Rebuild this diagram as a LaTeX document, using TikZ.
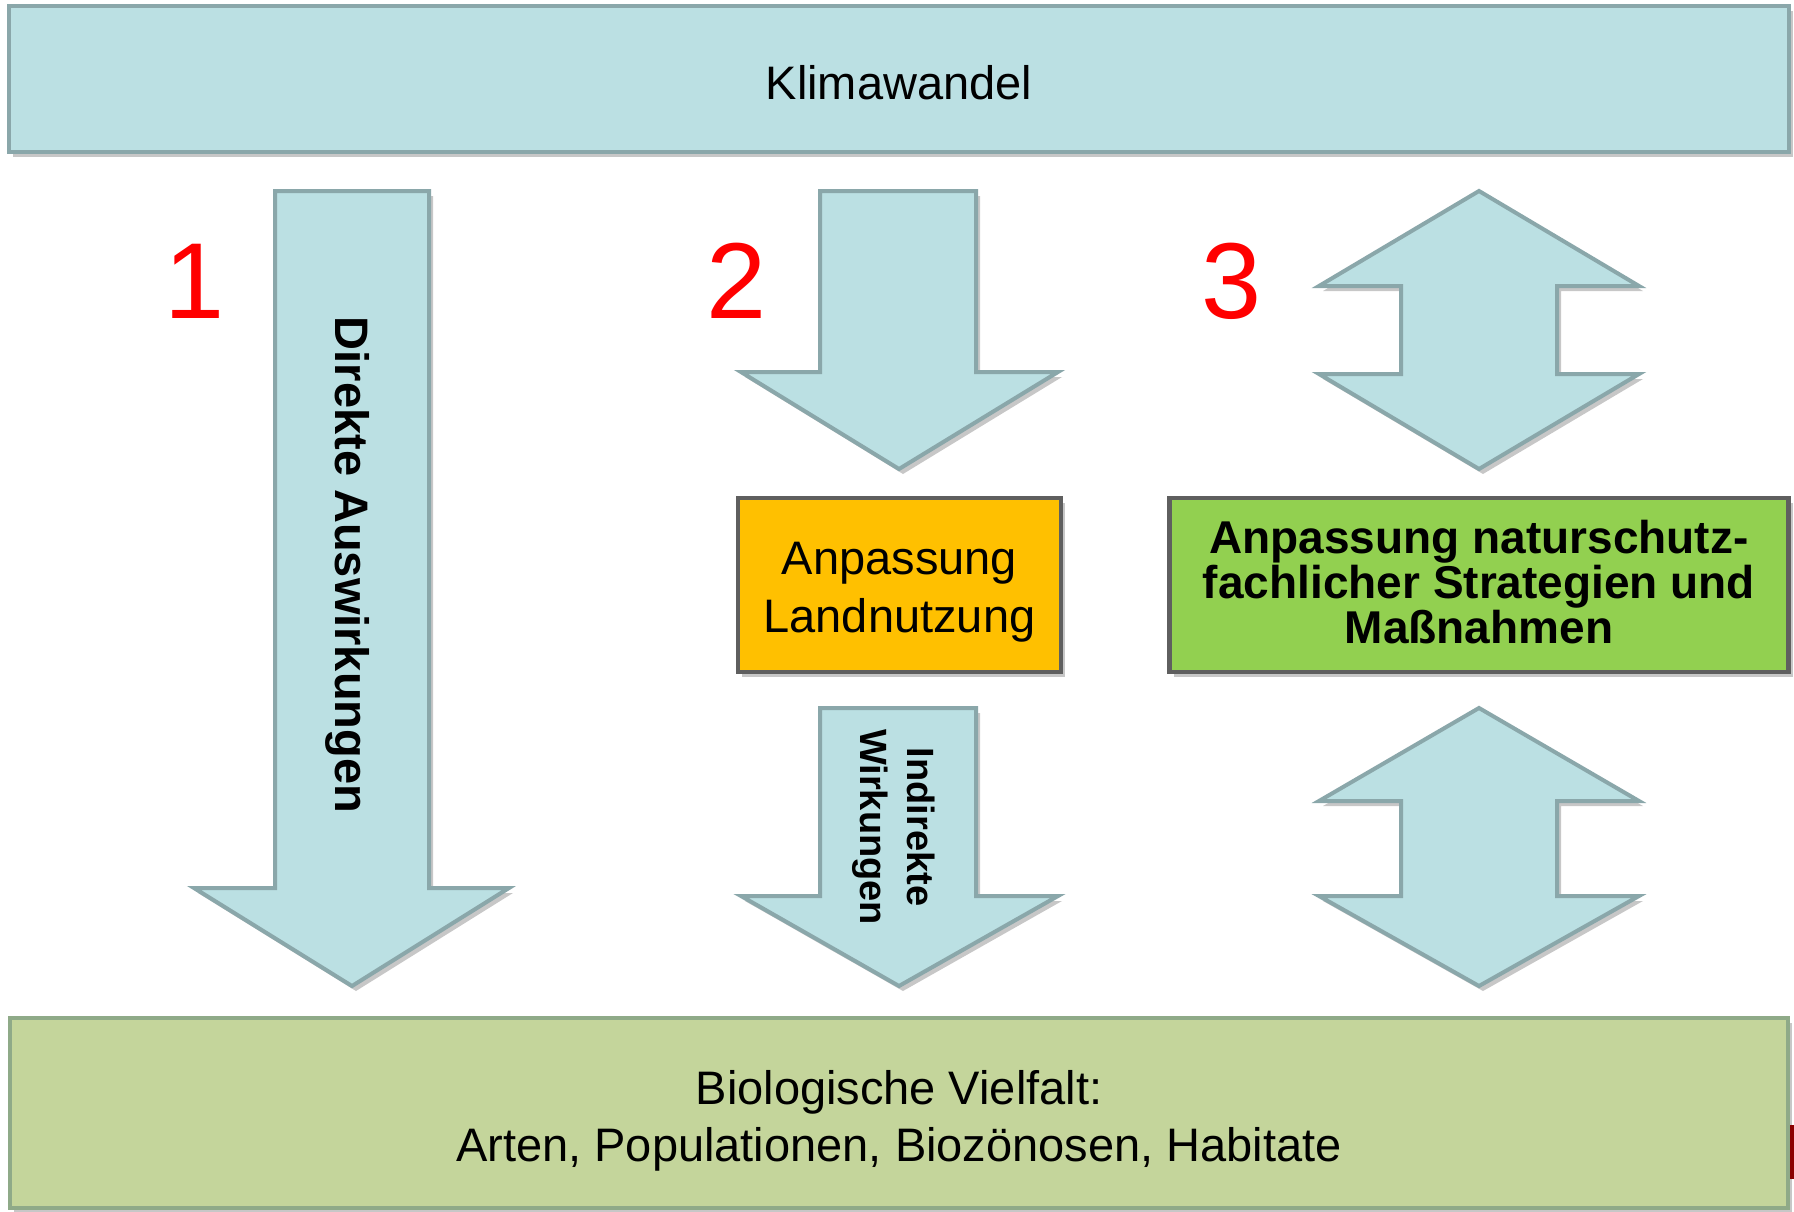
\documentclass[tikz,border=0pt]{standalone}
\usepackage{fontspec}
\setmainfont{Liberation Sans}
\usetikzlibrary{shadows}
\definecolor{tealfill}{RGB}{187,224,227}
\definecolor{tealline}{RGB}{138,167,170}
\definecolor{boxorange}{RGB}{255,192,0}
\definecolor{boxgreen}{RGB}{146,208,80}
\definecolor{boxline}{RGB}{95,95,95}
\definecolor{biofill}{RGB}{196,213,155}
\definecolor{bioline}{RGB}{143,170,136}
\definecolor{numred}{RGB}{255,0,0}
\definecolor{edgered}{RGB}{139,0,0}
\begin{document}
\begin{tikzpicture}[x=1pt,y=-1pt,
  softshadow/.style={drop shadow={shadow xshift=4pt,shadow yshift=-5pt,opacity=0.22,fill=black}},
  tealshape/.style={fill=tealfill,draw=tealline,line width=4pt,softshadow},
  bigbox/.style={rectangle,inner sep=0pt,line width=4pt,softshadow,align=center},
  midbox/.style={rectangle,inner sep=0pt,line width=4.5pt,draw=boxline,softshadow,align=center},
  numlabel/.style={text=numred,inner sep=0pt,font=\fontsize{108}{108}\selectfont},
  regtext/.style={inner sep=0pt,align=center,font=\fontsize{47}{57}\selectfont},
]
\useasboundingbox (0,0) rectangle (1794,1211);
\fill[white] (0,0) rectangle (1794,1211);

% top box
\node[bigbox,fill=tealfill,draw=tealline,minimum width=1780pt,minimum height=146pt]
  (klima) at (899,79) {};
\node[regtext] (klimatext) at ([yshift=-4pt]klima.center) {Klimawandel};

% bottom box
\node[bigbox,fill=biofill,draw=bioline,minimum width=1778pt,minimum height=190pt]
  (bio) at (899,1113) {};
\node[regtext] (biotext) at ([yshift=-8pt]bio.center) {Biologische Vielfalt:\\Arten, Populationen, Biozönosen, Habitate};
\fill[edgered] (1790,1125) rectangle (1794,1179);

% arrow 1
\draw[tealshape] (275,191) -- (429,191) -- (429,888) -- (509,888) -- (352,986) -- (194,888) -- (275,888) -- cycle;
\node[rotate=-90,font=\bfseries\fontsize{47}{57}\selectfont,inner sep=0pt] (direkt) at (348,565) {Direkte Auswirkungen};

% arrow 2
\draw[tealshape] (820,191) -- (976,191) -- (976,372) -- (1058,372) -- (899,469) -- (741,372) -- (820,372) -- cycle;

% orange box
\node[midbox,fill=boxorange,minimum width=323pt,minimum height=174pt]
  (land) at (899.5,585) {};
\node[regtext,font=\fontsize{47}{58}\selectfont] (landtext) at ([yshift=-7pt]land.center) {Anpassung\\Landnutzung};

% arrow 3
\draw[tealshape] (820,708) -- (976,708) -- (976,896) -- (1058,896) -- (899,986) -- (741,896) -- (820,896) -- cycle;
\node[rotate=-90,align=center,font=\bfseries\fontsize{38}{47}\selectfont,inner sep=0pt] (indirekt) at (894,827) {Indirekte\\Wirkungen};

% double arrows
\draw[tealshape] (1479,191) -- (1639,286) -- (1557,286) -- (1557,374) -- (1639,374) -- (1479,469) -- (1319,374) -- (1401,374) -- (1401,286) -- (1319,286) -- cycle;
\draw[tealshape] (1479,708) -- (1639,801) -- (1557,801) -- (1557,896) -- (1639,896) -- (1479,986) -- (1319,896) -- (1401,896) -- (1401,801) -- (1319,801) -- cycle;

% green box
\node[midbox,fill=boxgreen,minimum width=619pt,minimum height=174pt]
  (natur) at (1479,585) {};
\node[inner sep=0pt,align=center,font=\bfseries\fontsize{46}{45}\selectfont] (naturtext) at ([yshift=3pt]natur.center) {Anpassung naturschutz-\\fachlicher Strategien und\\Maßnahmen};

% numbers
\node[numlabel,anchor=base] (n1) at (195,318) {1};
\node[numlabel,anchor=base] (n2) at (737,318) {2};
\node[numlabel,anchor=base] (n3) at (1232,318) {3};
\end{tikzpicture}
\end{document}
